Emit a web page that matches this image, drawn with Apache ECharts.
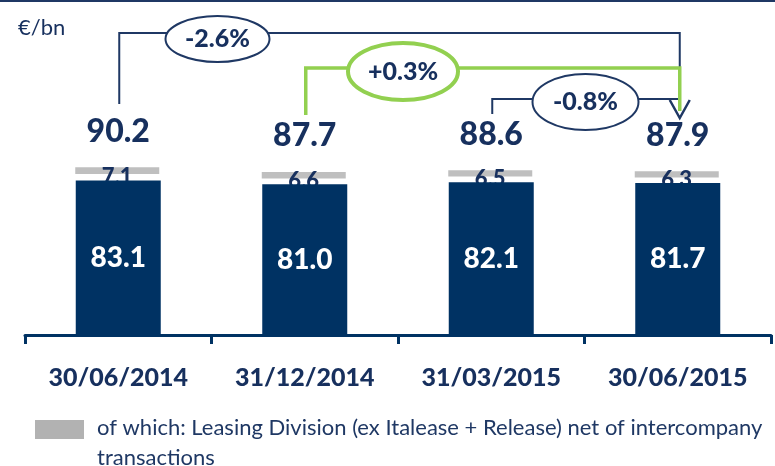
<!DOCTYPE html>
<html>
<head>
<meta charset="utf-8">
<script src="https://cdn.jsdelivr.net/npm/echarts@6/dist/echarts.min.js"></script>
<style>
  html, body { margin: 0; padding: 0; background: #fff; }
  #chart { width: 775px; height: 466px; }
</style>
</head>
<body>
<div id="chart"></div>
<script>
var categories = ['30/06/2014', '31/12/2014', '31/03/2015', '30/06/2015'];
var coreValues = [83.1, 81.0, 82.1, 81.7];      // navy part
var leasingValues = [7.1, 6.6, 6.5, 6.3];       // grey part: leasing division
var totalValues = [90.2, 87.7, 88.6, 87.9];
var changeLabels = ['-2.6%', '+0.3%', '-0.8%']; // each date vs 30/06/2015

var NAVY = '#003263';
var TEXT = '#17305e';
var LINE = '#1f3864';
var GREEN = '#92d050';
var GREY = '#bfbfbf';
var FONT = 'Lato, "Open Sans", sans-serif';
var HEAVY = '900';

var chart = echarts.init(document.getElementById('chart'));

// grey stripe + its label + the total above it
function renderLeasing(params, api) {
  var i = api.value(0);
  var core = api.value(1);
  var lease = api.value(2);
  var total = api.value(3);
  var top = api.coord([i, core + lease]);
  var base = api.coord([i, core]);
  var zone = base[1] - top[1];
  var w = 84;
  return {
    type: 'group',
    children: [
      {
        type: 'rect',
        shape: { x: top[0] - w / 2 - 1, y: top[1], width: w, height: zone * 0.52 },
        style: { fill: GREY }
      },
      {
        type: 'text',
        style: {
          text: lease.toFixed(1), x: top[0] - 1, y: top[1] + zone / 2 + 3,
          align: 'center', verticalAlign: 'middle',
          font: HEAVY + ' 22px ' + FONT, fill: TEXT
        }
      },
      {
        type: 'text',
        style: {
          text: total.toFixed(1), x: top[0], y: top[1] - 20,
          align: 'center', verticalAlign: 'bottom',
          font: HEAVY + ' 32px ' + FONT, fill: TEXT
        }
      }
    ]
  };
}

var leasingData = categories.map(function (c, i) {
  return [i, coreValues[i], leasingValues[i], totalValues[i]];
});

chart.setOption({
  animation: false,
  title: {
    text: '€/bn', left: 13, top: 12,
    textStyle: { color: TEXT, fontSize: 22, fontWeight: 'normal', fontFamily: FONT }
  },
  grid: { left: 25, right: 4, top: 149, bottom: 131 },
  xAxis: {
    type: 'category',
    data: categories,
    axisLine: { lineStyle: { color: NAVY, width: 3 } },
    axisTick: { show: true, length: 9, lineStyle: { color: NAVY, width: 3 } },
    axisLabel: { color: TEXT, fontSize: 25, fontWeight: HEAVY, fontFamily: FONT, margin: 30 }
  },
  yAxis: { type: 'value', min: 0, max: 100, show: false },
  series: [
    {
      type: 'custom',
      z: 1,
      renderItem: renderLeasing,
      encode: { x: 0, y: 1 },
      data: leasingData
    },
    {
      type: 'bar',
      z: 2,
      barWidth: 85,
      data: coreValues,
      itemStyle: { color: NAVY },
      label: {
        show: true, position: 'inside', color: '#fff',
        fontSize: 28, fontWeight: HEAVY, fontFamily: FONT,
        formatter: function (p) { return p.value.toFixed(1); }
      }
    }
  ]
});

// change brackets, placed from the category positions
var xs = categories.map(function (c) {
  return chart.convertToPixel({ xAxisIndex: 0 }, c) + 1;
});
var xEnd = xs[3] + 1;

function bubble(cx, cy, rx, ry, color, width, text) {
  return [
    { type: 'ellipse', z: 20, shape: { cx: cx, cy: cy, rx: rx, ry: ry },
      style: { fill: '#fff', stroke: color, lineWidth: width } },
    { type: 'text', z: 21, style: { text: text, x: cx, y: cy, align: 'center', verticalAlign: 'middle',
      font: HEAVY + ' 25px ' + FONT, fill: TEXT } }
  ];
}

var els = [
  { type: 'line', shape: { x1: 0, y1: 1, x2: 775, y2: 1 }, style: { stroke: LINE, lineWidth: 2 } },
  // -2.6%
  { type: 'polyline', z: 10, shape: { points: [[xs[0], 104], [xs[0], 33], [xEnd, 33], [xEnd, 68]] },
    style: { stroke: LINE, lineWidth: 2, fill: null } },
  // +0.3%
  { type: 'polyline', z: 11, shape: { points: [[xs[1], 115], [xs[1], 68], [xEnd, 68], [xEnd, 111]] },
    style: { stroke: GREEN, lineWidth: 3.5, fill: null } },
  // -0.8%
  { type: 'polyline', z: 10, shape: { points: [[xs[2], 114], [xs[2], 99], [xEnd, 99]] },
    style: { stroke: LINE, lineWidth: 2, fill: null } },
  // arrow head
  { type: 'polyline', z: 12, shape: { points: [[xEnd - 10, 100], [xEnd, 118], [xEnd + 10, 100]] },
    style: { stroke: LINE, lineWidth: 2.5, fill: null } },
  // legend
  { type: 'rect', shape: { x: 35, y: 420, width: 49, height: 19 }, style: { fill: '#b2b2b2' } },
  { type: 'text', style: {
      text: 'of which: Leasing Division (ex Italease + Release) net of intercompany\ntransactions',
      x: 97, y: 413, font: '22px ' + FONT, fill: LINE, lineHeight: 30 } }
];
els = els.concat(
  bubble((xs[0] + xs[1]) / 2 + 5, 39, 52, 23, LINE, 2, changeLabels[0]),
  bubble((xs[1] + xs[2]) / 2 + 4, 71.5, 55, 28.5, GREEN, 4, changeLabels[1]),
  bubble((xs[2] + xs[3]) / 2, 102, 53, 28, LINE, 2, changeLabels[2])
);

chart.setOption({ graphic: els });
</script>
</body>
</html>
